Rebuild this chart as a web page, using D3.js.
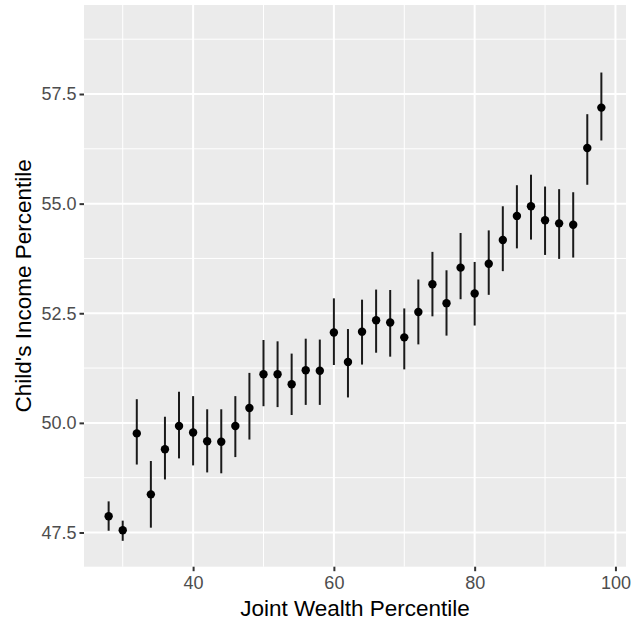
<!DOCTYPE html>
<html>
<head>
<meta charset="utf-8">
<script src="https://cdn.jsdelivr.net/npm/d3@7"></script>
<style>
body { margin:0; background:#fff; }
svg text { font-family: "Liberation Sans", Arial, sans-serif; }
</style>
</head>
<body>
<div class="chart"></div>
<script>
// joint wealth percentile (x), child's income percentile estimate and interval
var wealth = [28,30,32,34,36,38,40,42,44,46,48,50,52,54,56,58,60,62,64,66,68,70,72,74,76,78,80,82,84,86,88,90,92,94,96,98];
var income = [47.87,47.55,49.76,48.37,49.40,49.93,49.78,49.58,49.57,49.93,50.34,51.11,51.11,50.88,51.20,51.19,52.06,51.39,52.08,52.34,52.29,51.95,52.53,53.16,52.73,53.54,52.95,53.63,54.17,54.72,54.94,54.62,54.55,54.52,56.27,57.19];
var incomeLow = [47.54,47.31,49.05,47.61,48.71,49.19,49.03,48.87,48.85,49.22,49.62,50.38,50.36,50.18,50.41,50.41,51.32,50.58,51.33,51.60,51.51,51.22,51.79,52.43,51.99,52.82,52.22,52.92,53.46,53.98,54.18,53.83,53.74,53.77,55.43,56.44];
var incomeHigh = [48.21,47.77,50.54,49.13,50.14,50.71,50.61,50.31,50.31,50.61,51.14,51.89,51.86,51.58,51.92,51.90,52.84,52.14,52.81,53.04,53.03,52.61,53.27,53.90,53.48,54.33,53.67,54.39,54.94,55.42,55.66,55.39,55.33,55.26,57.04,57.99];
var xTicks = [40,60,80,100];
var xMinor = [30,50,70,90];
var yTicks = [47.5,50.0,52.5,55.0,57.5];
var yMinor = [48.75,51.25,53.75,56.25,58.75];

var rows = wealth.map(function(w,i){ return {x:w, y:income[i], lo:incomeLow[i], hi:incomeHigh[i]}; });

var W = 632, H = 623;
var margin = {top:5, right:6, bottom:56.3, left:84};
var width = W - margin.left - margin.right,
    height = H - margin.top - margin.bottom;

var svg = d3.select(".chart").append("svg")
    .attr("width", W)
    .attr("height", H);

var x = d3.scaleLinear().domain([24.5,101.5]).range([0,width]);
var y = d3.scaleLinear().domain([46.72,59.53]).range([height,0]);

var g = svg.append("g").attr("transform","translate(" + margin.left + "," + margin.top + ")");

g.append("rect")
    .attr("width", width)
    .attr("height", height)
    .attr("fill", "#EBEBEB");

// minor grid
g.selectAll(".xminor").data(xMinor).enter().append("line")
    .attr("x1", function(d){ return x(d); }).attr("x2", function(d){ return x(d); })
    .attr("y1", 0).attr("y2", height)
    .attr("stroke", "#fff").attr("stroke-width", 1);
g.selectAll(".yminor").data(yMinor).enter().append("line")
    .attr("y1", function(d){ return y(d); }).attr("y2", function(d){ return y(d); })
    .attr("x1", 0).attr("x2", width)
    .attr("stroke", "#fff").attr("stroke-width", 1);

// major grid
g.selectAll(".xmajor").data(xTicks).enter().append("line")
    .attr("x1", function(d){ return x(d); }).attr("x2", function(d){ return x(d); })
    .attr("y1", 0).attr("y2", height)
    .attr("stroke", "#fff").attr("stroke-width", 2);
g.selectAll(".ymajor").data(yTicks).enter().append("line")
    .attr("y1", function(d){ return y(d); }).attr("y2", function(d){ return y(d); })
    .attr("x1", 0).attr("x2", width)
    .attr("stroke", "#fff").attr("stroke-width", 2);

// axes
var xAxis = g.append("g")
    .attr("transform", "translate(0," + height + ")")
    .call(d3.axisBottom(x).tickValues(xTicks).tickSize(4.5).tickPadding(5.5).tickFormat(d3.format("d")));
var yAxis = g.append("g")
    .call(d3.axisLeft(y).tickValues(yTicks).tickSize(4.5).tickPadding(3).tickFormat(d3.format(".1f")));

[xAxis, yAxis].forEach(function(a){
    a.select(".domain").remove();
    a.selectAll(".tick line").attr("stroke", "#333").attr("stroke-width", 2);
    a.selectAll(".tick text")
        .attr("fill", "#4D4D4D")
        .style("font-size", "18px");
});

// pointranges
g.selectAll(".range").data(rows).enter().append("line")
    .attr("x1", function(d){ return x(d.x); }).attr("x2", function(d){ return x(d.x); })
    .attr("y1", function(d){ return y(d.lo); }).attr("y2", function(d){ return y(d.hi); })
    .attr("stroke", "#1a1a1a").attr("stroke-width", 2);

g.selectAll(".pt").data(rows).enter().append("circle")
    .attr("cx", function(d){ return x(d.x); })
    .attr("cy", function(d){ return y(d.y); })
    .attr("r", 4.2)
    .attr("fill", "#000");

// titles
svg.append("text")
    .attr("x", margin.left + width/2)
    .attr("y", 616)
    .attr("text-anchor", "middle")
    .style("font-size", "22.5px")
    .attr("fill", "#000")
    .text("Joint Wealth Percentile");

svg.append("text")
    .attr("transform", "translate(31," + (margin.top + height/2) + ") rotate(-90)")
    .attr("text-anchor", "middle")
    .style("font-size", "22.5px")
    .attr("fill", "#000")
    .text("Child's Income Percentile");
</script>
</body>
</html>
